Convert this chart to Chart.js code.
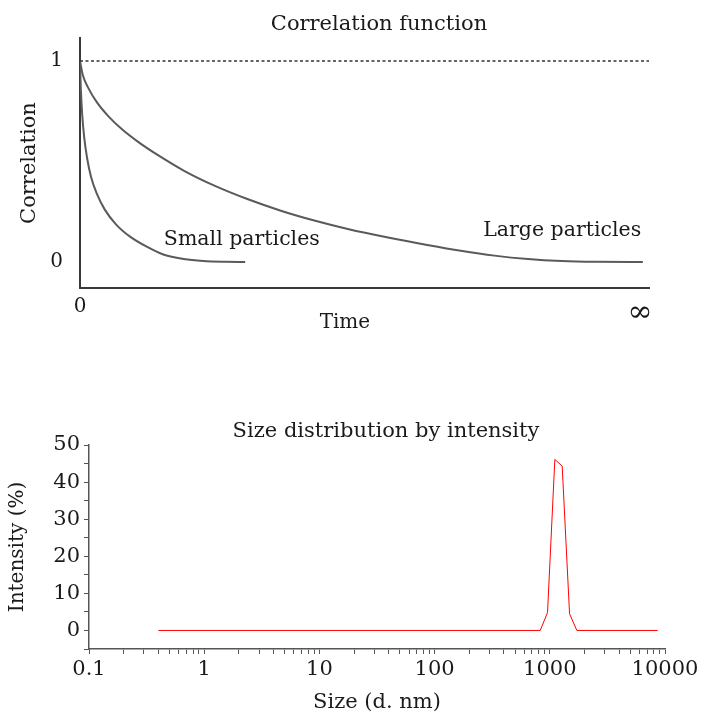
<!DOCTYPE html>
<html><head><meta charset="utf-8">
<script src="https://cdn.jsdelivr.net/npm/chart.js@4/dist/chart.umd.min.js"></script>
<style>
html,body{margin:0;padding:0;background:#fff;overflow:hidden;}
#top{position:absolute;left:0;top:0;width:703px;height:345px;}
#bot{position:absolute;left:0;top:410px;width:703px;height:305px;}
</style></head><body>
<div id="top"><canvas id="c1"></canvas></div>
<div id="bot"><canvas id="c2"></canvas></div>
<script>
// ---- Correlation function (schematic) ----
const smallTime = [0, 0.15, 0.4, 0.75, 1.25, 2, 3, 4.4, 6.5, 9, 12, 15, 18.5, 22, 26, 29.5];
const smallCorr = [1.0, 0.86, 0.73, 0.62, 0.52, 0.42, 0.34, 0.262, 0.185, 0.125, 0.075, 0.036, 0.015, 0.005, 0.001, 0.0];
const largeTime = [0, 0.5, 1.5, 3, 5, 7.5, 10.5, 14, 18.5, 24, 30, 36, 42, 48, 55, 62, 68, 74, 80, 86, 92, 100.5];
const largeCorr = [1.0, 0.93, 0.865, 0.795, 0.727, 0.66, 0.595, 0.53, 0.455, 0.38, 0.312, 0.254, 0.205, 0.163, 0.122, 0.085, 0.056, 0.032, 0.015, 0.005, 0.001, 0.0];
const baselineTime = [0, 101.6];
const baselineCorr = [1, 1];
const corrTickValues = [0, 1];
const corrTickLabels = ['0', '1'];
const timeTickValues = [0, 100];
const timeTickLabels = ['0', '\u221E'];

// ---- Size distribution by intensity ----
const sizeNm = [0.4, 825, 955.4, 1106, 1281, 1484, 1718, 8635];
const intensityPct = [0, 0, 4.8, 46.1, 44.3, 4.5, 0, 0];
const sizeTickValues = [0.1, 1, 10, 100, 1000, 10000];
const sizeTickLabels = ['0.1', '1', '10', '100', '1000', '10000'];
const sizeMinorMultipliers = [2, 3, 4, 5, 6, 7, 8, 9];
const intensityTickLabels = ['0', '10', '20', '30', '40', '50'];

const FONT = 'DejaVu Serif';
const TXT = '#1a1a1a';
Chart.defaults.font.family = FONT;
Chart.defaults.color = TXT;

function pts(xs, ys) { return xs.map((x, i) => ({x: x, y: ys[i]})); }

const topLabels = {
  id: 'topLabels',
  afterDraw(chart) {
    const {ctx, scales: {x, y}, chartArea} = chart;
    ctx.save();
    ctx.fillStyle = TXT;
    ctx.textAlign = 'center';
    ctx.textBaseline = 'middle';
    ctx.font = '21px "' + FONT + '"';
    ctx.fillText('Correlation function', 379, 25);
    ctx.font = '20.5px "' + FONT + '"';
    ctx.fillText('Small particles', x.getPixelForValue(28.9), y.getPixelForValue(0.109));
    ctx.fillText('Large particles', x.getPixelForValue(86.1), y.getPixelForValue(0.154));
    ctx.font = '20px "' + FONT + '"';
    ctx.fillText('Time', x.getPixelForValue(47.3), chartArea.bottom + 35);
    ctx.restore();
  }
};

new Chart(document.getElementById('c1'), {
  type: 'line',
  data: {
    datasets: [
      {data: pts(baselineTime, baselineCorr), borderColor: '#333', borderWidth: 1.5, borderDash: [3, 2.5], pointRadius: 0, tension: 0},
      {data: pts(largeTime, largeCorr), borderColor: '#5a5a5a', borderWidth: 2, pointRadius: 0, cubicInterpolationMode: 'monotone'},
      {data: pts(smallTime, smallCorr), borderColor: '#5a5a5a', borderWidth: 2, pointRadius: 0, cubicInterpolationMode: 'monotone'}
    ]
  },
  options: {
    responsive: true, maintainAspectRatio: false, animation: false, devicePixelRatio: 1,
    layout: {padding: {left: 0, right: 54, top: 38, bottom: 0}},
    plugins: {legend: {display: false}, tooltip: {enabled: false}, title: {display: false}},
    scales: {
      x: {
        type: 'linear', min: 0, max: 101.6,
        afterBuildTicks: s => { s.ticks = timeTickValues.map(v => ({value: v})); },
        afterFit: s => { s.height = 57; s.paddingLeft = 0; s.paddingRight = 0; },
        ticks: {autoSkip: false, maxRotation: 0, padding: 7, color: TXT,
          font: c => (c.tick && c.tick.value === 100) ? {size: 30} : {size: 20},
          callback: v => timeTickLabels[timeTickValues.indexOf(v)]},
        grid: {display: false, drawTicks: false},
        border: {display: true, color: '#3a3a3a', width: 2}
      },
      y: {
        type: 'linear', min: -0.129, max: 1.114,
        afterBuildTicks: s => { s.ticks = corrTickValues.map(v => ({value: v})); },
        afterFit: s => { s.width = 80; s.paddingTop = 0; s.paddingBottom = 0; },
        ticks: {autoSkip: false, padding: 17, font: {size: 20}, color: TXT,
          callback: v => corrTickLabels[corrTickValues.indexOf(v)]},
        grid: {display: false, drawTicks: false},
        border: {display: true, color: '#3a3a3a', width: 2},
        title: {display: true, text: 'Correlation', font: {size: 21}, color: TXT, padding: {top: 17, bottom: 0}}
      }
    }
  },
  plugins: [topLabels]
});

const botLabels = {
  id: 'botLabels',
  afterDraw(chart) {
    const {ctx} = chart;
    ctx.save();
    ctx.fillStyle = TXT;
    ctx.textAlign = 'center';
    ctx.textBaseline = 'middle';
    ctx.font = '21px "' + FONT + '"';
    ctx.fillText('Size distribution by intensity', 386, 22);
    ctx.restore();
  }
};

new Chart(document.getElementById('c2'), {
  type: 'line',
  data: {
    datasets: [
      {data: pts(sizeNm, intensityPct), borderColor: '#ff0000', borderWidth: 1, pointRadius: 0, tension: 0}
    ]
  },
  options: {
    responsive: true, maintainAspectRatio: false, animation: false, devicePixelRatio: 1,
    layout: {padding: {left: 0, right: 38, top: 35, bottom: 0}},
    plugins: {legend: {display: false}, tooltip: {enabled: false}, title: {display: false}},
    scales: {
      x: {
        type: 'logarithmic', min: 0.1, max: 10000,
        afterBuildTicks: s => {
          const t = [];
          sizeTickValues.forEach((d, i) => {
            t.push({value: d, major: true});
            if (i < sizeTickValues.length - 1) sizeMinorMultipliers.forEach(m => t.push({value: d * m}));
          });
          s.ticks = t;
        },
        afterFit: s => { s.height = 66; s.paddingLeft = 0; s.paddingRight = 0; },
        ticks: {autoSkip: false, maxRotation: 0, padding: 3, font: {size: 21}, color: TXT,
          callback: v => { const i = sizeTickValues.indexOf(v); return i >= 0 ? sizeTickLabels[i] : ''; }},
        grid: {drawOnChartArea: false, drawTicks: true, tickLength: 5, color: '#555', lineWidth: 1},
        border: {display: true, color: '#555', width: 1.5},
        title: {display: true, text: 'Size (d. nm)', font: {size: 21}, color: TXT, padding: {top: 0, bottom: 0}}
      },
      y: {
        type: 'linear', min: -5, max: 50,
        ticks: {stepSize: 5, autoSkip: false, padding: 4, font: {size: 21}, color: TXT,
          callback: v => { const i = intensityTickLabels.indexOf(String(v)); return i >= 0 ? intensityTickLabels[i] : ''; }},
        afterFit: s => { s.width = 89; s.paddingTop = 0; s.paddingBottom = 0; },
        grid: {drawOnChartArea: false, drawTicks: true, tickLength: 5, color: '#555', lineWidth: 1},
        border: {display: true, color: '#555', width: 1.5},
        title: {display: true, text: 'Intensity (%)', font: {size: 20}, color: TXT, padding: {top: 6, bottom: 0}}
      }
    }
  },
  plugins: [botLabels]
});
</script>
</body></html>
